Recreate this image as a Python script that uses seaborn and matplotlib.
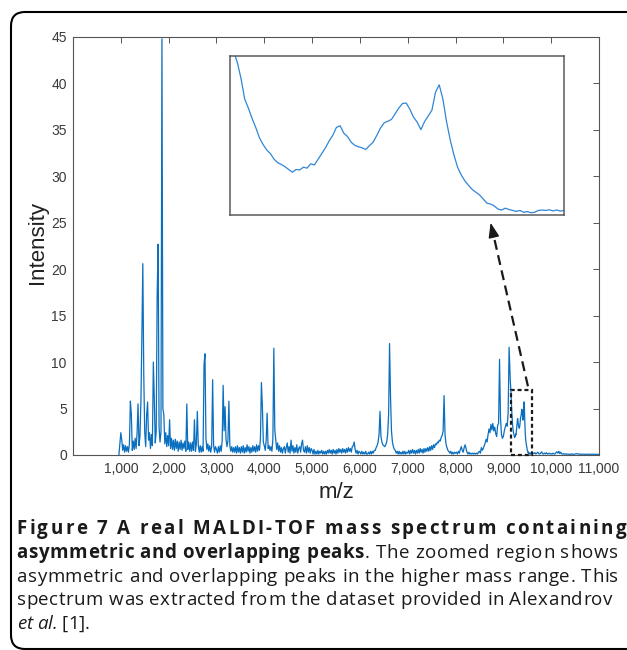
import numpy as np
import pandas as pd
import matplotlib
matplotlib.use("Agg")
import matplotlib.pyplot as plt
import seaborn as sns
from matplotlib.patches import FancyBboxPatch, Rectangle
from matplotlib.font_manager import FontProperties, findfont
from matplotlib.ft2font import FT2Font
from matplotlib.transforms import IdentityTransform

try:
    from matplotlib.ft2font import LoadFlags
    NOHINT = LoadFlags.NO_HINTING
except ImportError:
    from matplotlib.ft2font import LOAD_NO_HINTING as NOHINT

# ---------------- data (intensity) ----------------
# each block: first m/z, sampling step, intensities
int_start = [0.0]                      # m/z 960
int_1000 = [2.4, 1.6, 0.5, 1.1, 0.3, 1.0, 0.4, 0.9, 0.3, 1.2,
            5.8, 4.4, 0.5, 1.5, 0.6, 1.8, 0.7, 2.4, 5.5, 1.0,
            2.0, 5.7, 12.6, 20.6, 8.6, 2.4, 0.9, 4.3, 5.7, 1.6,
            2.4, 0.7, 2.2, 1.0, 10.0, 6.1, 1.3, 2.5, 17.2, 22.7,
            3.0, 1.4, 2.5, 44.8, 5.0, 4.3, 1.2, 2.4, 0.9, 2.1]
int_2000 = [1.0, 3.8, 0.7, 1.8, 0.6, 1.6, 0.5, 1.7, 0.7, 1.5,
            0.4, 1.4, 0.6, 1.6, 0.5, 1.3, 0.7, 1.5, 0.4, 5.5,
            0.6, 1.4, 0.4, 1.3, 0.4, 1.4, 0.5, 3.8, 0.4, 1.2,
            4.7, 1.0, 0.3, 1.0, 0.3, 0.9, 0.4, 9.7, 10.9, 1.8,
            0.6, 1.2, 0.4, 1.0, 0.3, 0.9, 8.1, 1.1, 0.3, 0.9]
int_3000 = [0.6, 0.2, 0.9, 0.3, 1.0, 0.4, 1.6, 7.5, 2.6, 5.2,
            1.7, 0.9, 1.5, 5.8, 1.0, 0.4, 0.9, 0.3, 0.8, 0.3,
            0.9, 0.2, 1.0, 0.3, 0.8, 0.2, 0.9, 0.3, 1.0, 0.2,
            0.8, 0.3, 1.1, 0.4, 0.9, 0.2, 0.8, 0.3, 1.0, 0.4,
            0.9, 0.3, 1.1, 0.4, 1.0, 0.5, 1.8, 7.8, 5.3, 1.4]
int_4000 = [1.0, 0.5, 1.6, 4.5, 0.7, 1.0, 0.5, 0.9, 0.4, 1.7,
            11.5, 2.7, 1.7, 0.6, 1.3, 0.4, 1.0, 0.3, 0.8, 0.2,
            0.7, 0.9, 0.2, 0.8, 1.3, 0.3, 0.9, 0.2, 1.6, 0.4,
            1.0, 0.2, 0.8, 0.3, 1.1, 0.2, 0.7, 0.9, 0.3, 1.2,
            1.6, 0.5, 0.3, 0.9, 0.2, 1.0, 0.3, 0.8, 0.2, 0.7]
int_5000 = [0.5, 0.1, 0.6, 0.1, 0.4, 0.1, 0.5, 0.1, 0.4, 0.2,
            0.5, 0.1, 0.4, 0.1, 0.4, 0.1, 0.5, 0.2, 0.6, 0.2,
            0.5, 0.1, 0.6, 0.2, 0.5, 0.1, 0.6, 0.2, 0.7, 0.3,
            0.6, 0.2, 0.7, 0.3, 0.6, 0.2, 0.7, 0.3, 0.8, 0.4,
            0.7, 0.3, 0.9, 1.0, 1.4, 0.6, 0.2, 0.5, 0.1, 0.4]
int_6000 = [0.3, 0.1, 0.4, 0.1, 0.3, 0.1, 0.4, 0.1, 0.1, 0.3,
            0.1, 0.4, 0.1, 0.4, 0.2, 0.5, 0.5, 0.8, 1.0, 1.4,
            2.2, 4.7, 2.0, 1.4, 1.1, 1.0, 0.9, 1.1, 1.4, 2.2,
            4.3, 12.0, 6.3, 2.6, 1.4, 0.9, 0.6, 0.5, 0.2, 0.4,
            0.1, 0.4, 0.1, 0.3, 0.1, 0.4, 0.1, 0.4, 0.1, 0.3]
int_7000 = [0.2, 0.5, 0.1, 0.5, 0.2, 0.6, 0.2, 0.5, 0.1, 0.5,
            0.2, 0.6, 0.2, 0.7, 0.3, 0.6, 0.2, 0.7, 0.3, 0.7,
            0.4, 0.8, 0.4, 0.9, 0.5, 1.0, 0.6, 1.1, 0.8, 1.2,
            1.1, 1.4, 1.3, 1.6, 1.5, 1.9, 2.1, 2.6, 6.4, 2.2,
            1.2, 0.8, 0.5, 0.4, 0.2, 0.4, 0.1, 0.3, 0.1, 0.3]
int_8000 = [0.2, 0.3, 0.1, 0.4, 0.2, 0.6, 0.9, 0.5, 0.3, 0.8,
            1.1, 0.7, 0.3, 0.1, 0.3, 0.1, 0.2, 0.1, 0.2, 0.1,
            0.2, 0.1, 0.2, 0.1, 0.3, 0.4, 0.2, 0.8, 0.5, 0.7,
            1.0, 1.3, 1.7, 1.4, 2.2, 2.8, 2.4, 3.3, 2.7, 3.4,
            2.6, 3.0, 2.3, 2.0, 3.2, 3.4, 10.3, 4.0, 2.2, 1.8]
int_9000 = [2.0, 2.6, 3.0, 3.4, 3.1, 4.5, 11.6]
int_zoom = [8.6, 8.0, 7.6, 7.2, 6.7, 6.0, 5.1, 4.7, 4.25, 3.85,
            3.4, 3.1, 2.86, 2.7, 2.45, 2.3, 2.22, 2.12, 2.0, 1.88,
            2.0, 1.98, 2.1, 2.06, 2.25, 2.2, 2.45, 2.7, 2.95, 3.25,
            3.5, 3.85, 3.92, 3.6, 3.45, 3.2, 3.06, 3.0, 2.95, 2.88,
            3.05, 3.2, 3.5, 3.82, 4.05, 4.12, 4.2, 4.45, 4.7, 4.9,
            4.92, 4.65, 4.3, 4.08, 3.75, 4.1, 4.35, 4.6, 5.4, 5.72,
            5.1, 4.1, 3.3, 2.65, 2.1, 1.76, 1.5, 1.3, 1.12, 1.0,
            0.88, 0.7, 0.52, 0.48, 0.4, 0.26, 0.22, 0.3, 0.24, 0.2,
            0.16, 0.2, 0.12, 0.15, 0.1, 0.12, 0.2, 0.22, 0.2, 0.23,
            0.18, 0.22, 0.17, 0.2]
int_tail = [0.2, 0.15, 0.25, 0.1, 0.2, 0.3, 0.15, 0.1, 0.2, 0.35,
            0.15, 0.1, 0.2, 0.12, 0.25, 0.1, 0.15, 0.2, 0.1, 0.15,
            0.1, 0.2, 0.12, 0.1, 0.25, 0.35, 0.2, 0.4, 0.15, 0.3,
            0.12, 0.1, 0.15, 0.08, 0.1, 0.12, 0.08, 0.1, 0.06, 0.1,
            0.08, 0.12, 0.06, 0.08, 0.1, 0.12, 0.15, 0.1, 0.12, 0.08,
            0.1, 0.06, 0.08, 0.1, 0.07, 0.09, 0.06, 0.08, 0.1, 0.07,
            0.08, 0.06, 0.09, 0.07, 0.08, 0.06, 0.07, 0.08, 0.06, 0.07]

blocks = [(960, 20, int_start), (1000, 20, int_1000), (2000, 20, int_2000),
          (3000, 20, int_3000), (4000, 20, int_4000), (5000, 20, int_5000),
          (6000, 20, int_6000), (7000, 20, int_7000), (8000, 20, int_8000),
          (9000, 20, int_9000), (9140, 5, int_zoom), (9620, 20, int_tail)]

x_ticks = [1000, 2000, 3000, 4000, 5000, 6000, 7000, 8000, 9000, 10000, 11000]
x_tick_labels = ["1,000", "2,000", "3,000", "4,000", "5,000", "6,000",
                 "7,000", "8,000", "9,000", "10,000", "11,000"]
y_ticks = [0, 5, 10, 15, 20, 25, 30, 35, 40, 45]
zoom_mz = (9150, 9605)
zoom_int = (0, 7)

caption = [
    [("Figure 7 A real MALDI-TOF mass spectrum containing", "bold")],
    [("asymmetric and overlapping peaks", "bold"), (". The zoomed region shows", "normal")],
    [("asymmetric and overlapping peaks in the higher mass range. This", "normal")],
    [("spectrum was extracted from the dataset provided in Alexandrov", "normal")],
    [("et al.", "italic"), (" [1].", "normal")],
]

mz = np.concatenate([s + st * np.arange(len(v)) for s, st, v in blocks])
inten = np.concatenate([np.asarray(v, float) for _, _, v in blocks])
df = pd.DataFrame({"m/z": mz, "Intensity": inten})

# ---------------- figure ----------------
sns.set_theme(style="white")
plt.rcParams["font.family"] = ["Liberation Sans", "DejaVu Sans"]

W, H, DPI = 627, 650, 100
fig = plt.figure(figsize=(W / DPI, H / DPI), dpi=DPI, facecolor="white")


def rect_px(l, t, r, b):
    return [l / W, 1 - b / H, (r - l) / W, (b - t) / H]


AX_L, AX_T, AX_R, AX_B = 73, 37, 599, 455
ax = fig.add_axes(rect_px(AX_L, AX_T, AX_R, AX_B))
sns.lineplot(data=df, x="m/z", y="Intensity", ax=ax, color="#0b6fbf",
             linewidth=0.9, estimator=None, sort=False)
ax.set_xlim(0, 11000)
ax.set_ylim(0, 45)
ax.set_xticks(x_ticks, x_tick_labels)
ax.set_yticks(y_ticks)
ax.tick_params(direction="in", top=True, right=True, length=4, width=0.7,
               color="#555555", labelcolor="#3a3a3a", labelsize=10)
ax.tick_params(axis="x", pad=5)
ax.tick_params(axis="y", pad=4.5)
for s in ax.spines.values():
    s.set_color("#555555")
    s.set_linewidth(0.8)
ax.set_xlabel("m/z", fontsize=16, color="#222222")
ax.set_ylabel("Intensity", fontsize=16, color="#222222")
ax.xaxis.set_label_coords(0.5, (AX_B - 482) / (AX_B - AX_T))
ax.yaxis.set_label_coords((48 - AX_L) / (AX_R - AX_L), (AX_B - 243) / (AX_B - AX_T))

# dashed box marking the zoomed window
ax.add_patch(Rectangle((zoom_mz[0], zoom_int[0]), zoom_mz[1] - zoom_mz[0],
                       zoom_int[1] - zoom_int[0], fill=False, ec="#1a1a1a",
                       lw=1.6, ls=(0, (1.8, 1.3)), clip_on=False, zorder=5))
# dashed arrow to the inset
ax.plot([9514, 8792], [7.4, 23.7], ls=(0, (4.5, 2.5)), lw=1.6,
        color="#1a1a1a", clip_on=False, zorder=5)
ax.annotate("", xy=(8733, 25.0), xytext=(8800, 23.5),
            arrowprops=dict(arrowstyle="-|>,head_length=0.6,head_width=0.22",
                            mutation_scale=15, color="#1a1a1a", lw=1.0,
                            shrinkA=0, shrinkB=0))

# inset
axin = fig.add_axes(rect_px(230, 55.7, 564, 215))
sns.lineplot(data=df, x="m/z", y="Intensity", ax=axin, color="#2f86d6",
             linewidth=0.9, estimator=None, sort=False)
axin.set_xlim(*zoom_mz)
axin.set_ylim(*zoom_int)
axin.set_xticks([])
axin.set_yticks([])
axin.set_xlabel("")
axin.set_ylabel("")
for s in axin.spines.values():
    s.set_color("#5a5a5a")
    s.set_linewidth(1.1)

# outer rounded frame
fig.add_artist(FancyBboxPatch((11, 1), 700, 637,
                              boxstyle="round,pad=0,rounding_size=14",
                              transform=IdentityTransform(), fill=False,
                              ec="black", lw=1.5))

# caption, justified by spreading characters
CAP_SIZE = 13.5
HF = float(plt.rcParams.get("text.hinting_factor", 8))
props = {
    "bold": FontProperties(family="Open Sans", weight="bold", size=CAP_SIZE),
    "normal": FontProperties(family="Open Sans", weight="normal", size=CAP_SIZE),
    "italic": FontProperties(family="Open Sans", style="italic", size=CAP_SIZE),
}
fonts = {}
for k, p in props.items():
    f = FT2Font(findfont(p))
    f.set_size(CAP_SIZE, DPI)
    fonts[k] = f

baselines = [534, 558, 582, 605, 629]
right_edges = [626, 618, 618, 612, None]
X0 = 16.5

for pieces, base, right in zip(caption, baselines, right_edges):
    chars = []
    for text, style in pieces:
        for ch in text:
            g = fonts[style].load_char(ord(ch), flags=NOHINT)
            adv = g.linearHoriAdvance / 65536.0
            lsb = g.horiBearingX / 64.0 / HF
            chars.append((ch, style, adv, lsb))
    natural = sum(c[2] for c in chars)
    extra = (right - X0 - natural) / (len(chars) - 1) if right else 0.0
    x = X0
    for ch, style, adv, lsb in chars:
        if ch != " ":
            fig.text((x + max(lsb, 0)) / W, 1 - base / H, ch,
                     fontproperties=props[style], ha="left", va="baseline",
                     color="#1a1a1a")
        x += adv + extra

fig.savefig("out.png", dpi=DPI, facecolor="white")
